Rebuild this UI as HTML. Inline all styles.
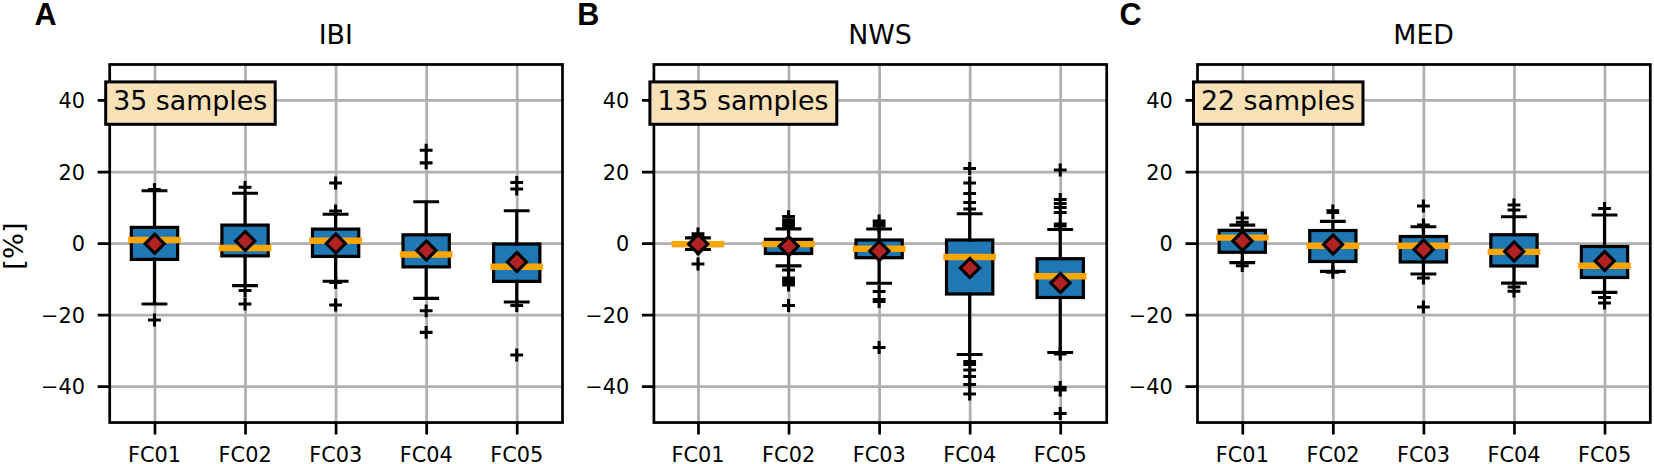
<!DOCTYPE html>
<html lang="en"><head><meta charset="utf-8"><title>Forecast bias boxplots</title>
<style>html,body{margin:0;padding:0;background:#fff}svg{display:block}text{font-family:"DejaVu Sans","Liberation Sans",sans-serif;fill:#000}.t{font-size:20.85px}.b{font-size:27.4px}.l{font-family:"Liberation Sans",sans-serif;font-weight:bold;font-size:30.6px}.g{stroke:#b0b0b0;stroke-width:2.74;fill:none}.k{stroke:#000;stroke-width:2.74;fill:none}.w{stroke:#000;stroke-width:3.2;fill:none;stroke-linecap:square}.bx{stroke:#000;stroke-width:3.2;fill:#1f77b4}.m{stroke:#ffa500;stroke-width:6.4;stroke-linecap:square;fill:none}.d{stroke:#000;stroke-width:3.1;fill:#b22222;stroke-linejoin:miter}.f{stroke:#000;stroke-width:3.1;fill:none}.n{stroke:#000;stroke-width:3;fill:#f9e1b7}</style></head><body>
<svg width="1654" height="464" viewBox="0 0 1654 464">
<rect width="1654" height="464" fill="#fff"/>
<g>
<path class="g" d="M154.98 64.5V422.55M245.54 64.5V422.55M336.1 64.5V422.55M426.66 64.5V422.55M517.22 64.5V422.55M109.7 100.47H562.5M109.7 172.01H562.5M109.7 243.55H562.5M109.7 315.09H562.5M109.7 386.63H562.5"/>
<rect class="bx" x="131.34" y="227.4" width="46.28" height="32"/>
<path class="w" d="M154.48 227.4V190.75M154.48 259.4V304M143.16 190.75H165.8M143.16 304H165.8"/>
<path class="f" d="M148.08 189.5H160.88M154.48 183.1V195.9M148.08 320H160.88M154.48 313.6V326.4"/>
<path class="m" d="M131.34 240H177.62"/>
<path class="d" d="M154.68 234.2L164.28 243.8L154.68 253.4L145.08 243.8Z"/>
<rect class="bx" x="221.9" y="225.1" width="46.28" height="30.8"/>
<path class="w" d="M245.04 225.1V193.25M245.04 255.9V285.7M233.72 193.25H256.36M233.72 285.7H256.36"/>
<path class="f" d="M238.64 187.3H251.44M245.04 180.9V193.7M238.64 290.5H251.44M245.04 284.1V296.9M238.64 304H251.44M245.04 297.6V310.4"/>
<path class="m" d="M221.9 248H268.18"/>
<path class="d" d="M245.24 231.4L254.84 241L245.24 250.6L235.64 241Z"/>
<rect class="bx" x="312.46" y="229.1" width="46.28" height="27.3"/>
<path class="w" d="M335.6 229.1V214.25M335.6 256.4V281.25M324.28 214.25H346.92M324.28 281.25H346.92"/>
<path class="f" d="M329.2 183H342M335.6 176.6V189.4M329.2 211H342M335.6 204.6V217.4M329.2 282.5H342M335.6 276.1V288.9M329.2 305H342M335.6 298.6V311.4"/>
<path class="m" d="M312.46 240.75H358.74"/>
<path class="d" d="M335.8 233.9L345.4 243.5L335.8 253.1L326.2 243.5Z"/>
<rect class="bx" x="403.02" y="234.8" width="46.28" height="32.1"/>
<path class="w" d="M426.16 234.8V201.75M426.16 266.9V298.4M414.84 201.75H437.48M414.84 298.4H437.48"/>
<path class="f" d="M419.76 150.2H432.56M426.16 143.8V156.6M419.76 162.9H432.56M426.16 156.5V169.3M419.76 310.8H432.56M426.16 304.4V317.2M419.76 332.4H432.56M426.16 326V338.8"/>
<path class="m" d="M403.02 254.5H449.3"/>
<path class="d" d="M426.36 240.9L435.96 250.5L426.36 260.1L416.76 250.5Z"/>
<rect class="bx" x="493.58" y="244" width="46.28" height="37.4"/>
<path class="w" d="M516.72 244V210.75M516.72 281.4V302M505.4 210.75H528.04M505.4 302H528.04"/>
<path class="f" d="M510.32 182.5H523.12M516.72 176.1V188.9M510.32 189H523.12M516.72 182.6V195.4M510.32 305.5H523.12M516.72 299.1V311.9M510.32 355H523.12M516.72 348.6V361.4"/>
<path class="m" d="M493.58 266.75H539.86"/>
<path class="d" d="M516.92 252.4L526.52 262L516.92 271.6L507.32 262Z"/>
<path class="k" d="M154.98 422.55v12M245.54 422.55v12M336.1 422.55v12M426.66 422.55v12M517.22 422.55v12M109.7 100.47h-12M109.7 172.01h-12M109.7 243.55h-12M109.7 315.09h-12M109.7 386.63h-12"/>
<rect class="k" x="109.7" y="64.5" width="452.8" height="358.05"/>
<text class="t" text-anchor="end" x="85" y="108.07">40</text>
<text class="t" text-anchor="end" x="85" y="179.61">20</text>
<text class="t" text-anchor="end" x="85" y="251.15">0</text>
<text class="t" text-anchor="end" x="85" y="322.69">−20</text>
<text class="t" text-anchor="end" x="85" y="394.23">−40</text>
<text class="t" text-anchor="middle" x="154.58" y="461.7">FC01</text>
<text class="t" text-anchor="middle" x="245.14" y="461.7">FC02</text>
<text class="t" text-anchor="middle" x="335.7" y="461.7">FC03</text>
<text class="t" text-anchor="middle" x="426.26" y="461.7">FC04</text>
<text class="t" text-anchor="middle" x="516.82" y="461.7">FC05</text>
<text class="b" text-anchor="middle" transform="translate(335.8 44.3) scale(0.978 1)">IBI</text>
<text class="l" x="34.6" y="25">A</text>
<rect class="n" id="nbA" x="105.7" y="81.9" width="169.5" height="42.4"/>
<text class="b" id="ntA" x="113.2" y="110.4" textLength="154" lengthAdjust="spacingAndGlyphs">35 samples</text>
</g>
<g>
<path class="g" d="M698.48 64.5V422.55M789.04 64.5V422.55M879.6 64.5V422.55M970.16 64.5V422.55M1060.72 64.5V422.55M653.9 100.47H1106.7M653.9 172.01H1106.7M653.9 243.55H1106.7M653.9 315.09H1106.7M653.9 386.63H1106.7"/>
<rect class="bx" x="674.84" y="243" width="46.28" height="2.5"/>
<path class="w" d="M697.98 243V237.9M697.98 245.5V249.5M686.66 237.9H709.3M686.66 249.5H709.3"/>
<path class="f" d="M691.58 233.8H704.38M697.98 227.4V240.2M691.58 236H704.38M697.98 229.6V242.4M691.58 248.8H704.38M697.98 242.4V255.2M691.58 264H704.38M697.98 257.6V270.4"/>
<path class="m" d="M674.84 244.1H721.12"/>
<path class="d" d="M698.18 234.5L707.78 244.1L698.18 253.7L688.58 244.1Z"/>
<rect class="bx" x="765.4" y="239.3" width="46.28" height="14.2"/>
<path class="w" d="M788.54 239.3V228.8M788.54 253.5V265.8M777.22 228.8H799.86M777.22 265.8H799.86"/>
<path class="f" d="M782.14 216.6H794.94M788.54 210.2V223M782.14 220H794.94M788.54 213.6V226.4M782.14 222.5H794.94M788.54 216.1V228.9M782.14 224.5H794.94M788.54 218.1V230.9M782.14 226.5H794.94M788.54 220.1V232.9M782.14 270H794.94M788.54 263.6V276.4M782.14 278H794.94M788.54 271.6V284.4M782.14 280.5H794.94M788.54 274.1V286.9M782.14 283H794.94M788.54 276.6V289.4M782.14 285H794.94M788.54 278.6V291.4M782.14 305.5H794.94M788.54 299.1V311.9"/>
<path class="m" d="M765.4 244.1H811.68"/>
<path class="d" d="M788.74 236.7L798.34 246.3L788.74 255.9L779.14 246.3Z"/>
<rect class="bx" x="855.96" y="240" width="46.28" height="17.7"/>
<path class="w" d="M879.1 240V229M879.1 257.7V283.25M867.78 229H890.42M867.78 283.25H890.42"/>
<path class="f" d="M872.7 221H885.5M879.1 214.6V227.4M872.7 224H885.5M879.1 217.6V230.4M872.7 226H885.5M879.1 219.6V232.4M872.7 291.5H885.5M879.1 285.1V297.9M872.7 299.5H885.5M879.1 293.1V305.9M872.7 301.5H885.5M879.1 295.1V307.9M872.7 347.5H885.5M879.1 341.1V353.9"/>
<path class="m" d="M855.96 248.75H902.24"/>
<path class="d" d="M879.3 241.4L888.9 251L879.3 260.6L869.7 251Z"/>
<rect class="bx" x="946.52" y="240" width="46.28" height="54"/>
<path class="w" d="M969.66 240V213.75M969.66 294V354.5M958.34 213.75H980.98M958.34 354.5H980.98"/>
<path class="f" d="M963.26 168.5H976.06M969.66 162.1V174.9M963.26 183H976.06M969.66 176.6V189.4M963.26 193.5H976.06M969.66 187.1V199.9M963.26 202.5H976.06M969.66 196.1V208.9M963.26 209H976.06M969.66 202.6V215.4M963.26 361.5H976.06M969.66 355.1V367.9M963.26 364.5H976.06M969.66 358.1V370.9M963.26 370H976.06M969.66 363.6V376.4M963.26 376.5H976.06M969.66 370.1V382.9M963.26 384.5H976.06M969.66 378.1V390.9M963.26 394H976.06M969.66 387.6V400.4"/>
<path class="m" d="M946.52 257H992.8"/>
<path class="d" d="M969.86 258.4L979.46 268L969.86 277.6L960.26 268Z"/>
<rect class="bx" x="1037.08" y="258.7" width="46.28" height="38.8"/>
<path class="w" d="M1060.22 258.7V229.5M1060.22 297.5V352.5M1048.9 229.5H1071.54M1048.9 352.5H1071.54"/>
<path class="f" d="M1053.82 170H1066.62M1060.22 163.6V176.4M1053.82 199.5H1066.62M1060.22 193.1V205.9M1053.82 203.5H1066.62M1060.22 197.1V209.9M1053.82 207.5H1066.62M1060.22 201.1V213.9M1053.82 212.5H1066.62M1060.22 206.1V218.9M1053.82 224H1066.62M1060.22 217.6V230.4M1053.82 226H1066.62M1060.22 219.6V232.4M1053.82 354H1066.62M1060.22 347.6V360.4M1053.82 387.5H1066.62M1060.22 381.1V393.9M1053.82 390H1066.62M1060.22 383.6V396.4M1053.82 413.5H1066.62M1060.22 407.1V419.9"/>
<path class="m" d="M1037.08 276.25H1083.36"/>
<path class="d" d="M1060.42 273.4L1070.02 283L1060.42 292.6L1050.82 283Z"/>
<path class="k" d="M698.48 422.55v12M789.04 422.55v12M879.6 422.55v12M970.16 422.55v12M1060.72 422.55v12M653.9 100.47h-12M653.9 172.01h-12M653.9 243.55h-12M653.9 315.09h-12M653.9 386.63h-12"/>
<rect class="k" x="653.9" y="64.5" width="452.8" height="358.05"/>
<text class="t" text-anchor="end" x="629.2" y="108.07">40</text>
<text class="t" text-anchor="end" x="629.2" y="179.61">20</text>
<text class="t" text-anchor="end" x="629.2" y="251.15">0</text>
<text class="t" text-anchor="end" x="629.2" y="322.69">−20</text>
<text class="t" text-anchor="end" x="629.2" y="394.23">−40</text>
<text class="t" text-anchor="middle" x="698.08" y="461.7">FC01</text>
<text class="t" text-anchor="middle" x="788.64" y="461.7">FC02</text>
<text class="t" text-anchor="middle" x="879.2" y="461.7">FC03</text>
<text class="t" text-anchor="middle" x="969.76" y="461.7">FC04</text>
<text class="t" text-anchor="middle" x="1060.32" y="461.7">FC05</text>
<text class="b" text-anchor="middle" transform="translate(880 44.3) scale(0.978 1)">NWS</text>
<text class="l" x="577.2" y="25">B</text>
<rect class="n" id="nbB" x="649.9" y="81.9" width="186.9" height="42.4"/>
<text class="b" id="ntB" x="657.4" y="110.4" textLength="171" lengthAdjust="spacingAndGlyphs">135 samples</text>
</g>
<g>
<path class="g" d="M1242.78 64.5V422.55M1333.34 64.5V422.55M1423.9 64.5V422.55M1514.46 64.5V422.55M1605.02 64.5V422.55M1197.5 100.47H1650.3M1197.5 172.01H1650.3M1197.5 243.55H1650.3M1197.5 315.09H1650.3M1197.5 386.63H1650.3"/>
<rect class="bx" x="1219.14" y="230.3" width="46.28" height="22"/>
<path class="w" d="M1242.28 230.3V225.1M1242.28 252.3V262.6M1230.96 225.1H1253.6M1230.96 262.6H1253.6"/>
<path class="f" d="M1235.88 218H1248.68M1242.28 211.6V224.4M1235.88 222.3H1248.68M1242.28 215.9V228.7M1235.88 265.7H1248.68M1242.28 259.3V272.1"/>
<path class="m" d="M1219.14 237.6H1265.42"/>
<path class="d" d="M1242.48 231.3L1252.08 240.9L1242.48 250.5L1232.88 240.9Z"/>
<rect class="bx" x="1309.7" y="230.5" width="46.28" height="31"/>
<path class="w" d="M1332.84 230.5V221.4M1332.84 261.5V271.4M1321.52 221.4H1344.16M1321.52 271.4H1344.16"/>
<path class="f" d="M1326.44 210.8H1339.24M1332.84 204.4V217.2M1326.44 212.5H1339.24M1332.84 206.1V218.9M1326.44 272.3H1339.24M1332.84 265.9V278.7"/>
<path class="m" d="M1309.7 245.75H1355.98"/>
<path class="d" d="M1333.04 234.9L1342.64 244.5L1333.04 254.1L1323.44 244.5Z"/>
<rect class="bx" x="1400.26" y="236.5" width="46.28" height="25.5"/>
<path class="w" d="M1423.4 236.5V226.75M1423.4 262V274M1412.08 226.75H1434.72M1412.08 274H1434.72"/>
<path class="f" d="M1417 206H1429.8M1423.4 199.6V212.4M1417 225H1429.8M1423.4 218.6V231.4M1417 278H1429.8M1423.4 271.6V284.4M1417 307H1429.8M1423.4 300.6V313.4"/>
<path class="m" d="M1400.26 245.75H1446.54"/>
<path class="d" d="M1423.6 239.9L1433.2 249.5L1423.6 259.1L1414 249.5Z"/>
<rect class="bx" x="1490.82" y="234.75" width="46.28" height="31.25"/>
<path class="w" d="M1513.96 234.75V216.75M1513.96 266V283.1M1502.64 216.75H1525.28M1502.64 283.1H1525.28"/>
<path class="f" d="M1507.56 205H1520.36M1513.96 198.6V211.4M1507.56 210H1520.36M1513.96 203.6V216.4M1507.56 287H1520.36M1513.96 280.6V293.4M1507.56 291.2H1520.36M1513.96 284.8V297.6"/>
<path class="m" d="M1490.82 251.9H1537.1"/>
<path class="d" d="M1514.16 241.9L1523.76 251.5L1514.16 261.1L1504.56 251.5Z"/>
<rect class="bx" x="1581.38" y="246.5" width="46.28" height="31"/>
<path class="w" d="M1604.52 246.5V215M1604.52 277.5V292.3M1593.2 215H1615.84M1593.2 292.3H1615.84"/>
<path class="f" d="M1598.12 208.5H1610.92M1604.52 202.1V214.9M1598.12 297.5H1610.92M1604.52 291.1V303.9M1598.12 303H1610.92M1604.52 296.6V309.4"/>
<path class="m" d="M1581.38 265.75H1627.66"/>
<path class="d" d="M1604.72 251.4L1614.32 261L1604.72 270.6L1595.12 261Z"/>
<path class="k" d="M1242.78 422.55v12M1333.34 422.55v12M1423.9 422.55v12M1514.46 422.55v12M1605.02 422.55v12M1197.5 100.47h-12M1197.5 172.01h-12M1197.5 243.55h-12M1197.5 315.09h-12M1197.5 386.63h-12"/>
<rect class="k" x="1197.5" y="64.5" width="452.8" height="358.05"/>
<text class="t" text-anchor="end" x="1172.8" y="108.07">40</text>
<text class="t" text-anchor="end" x="1172.8" y="179.61">20</text>
<text class="t" text-anchor="end" x="1172.8" y="251.15">0</text>
<text class="t" text-anchor="end" x="1172.8" y="322.69">−20</text>
<text class="t" text-anchor="end" x="1172.8" y="394.23">−40</text>
<text class="t" text-anchor="middle" x="1242.38" y="461.7">FC01</text>
<text class="t" text-anchor="middle" x="1332.94" y="461.7">FC02</text>
<text class="t" text-anchor="middle" x="1423.5" y="461.7">FC03</text>
<text class="t" text-anchor="middle" x="1514.06" y="461.7">FC04</text>
<text class="t" text-anchor="middle" x="1604.62" y="461.7">FC05</text>
<text class="b" text-anchor="middle" transform="translate(1423.6 44.3) scale(0.978 1)">MED</text>
<text class="l" x="1119.6" y="25">C</text>
<rect class="n" id="nbC" x="1193.5" y="81.9" width="169.5" height="42.4"/>
<text class="b" id="ntC" x="1201" y="110.4" textLength="154" lengthAdjust="spacingAndGlyphs">22 samples</text>
</g>
<text class="b" text-anchor="middle" transform="translate(22.7 246.1) rotate(-90)">[%]</text>
</svg></body></html>
